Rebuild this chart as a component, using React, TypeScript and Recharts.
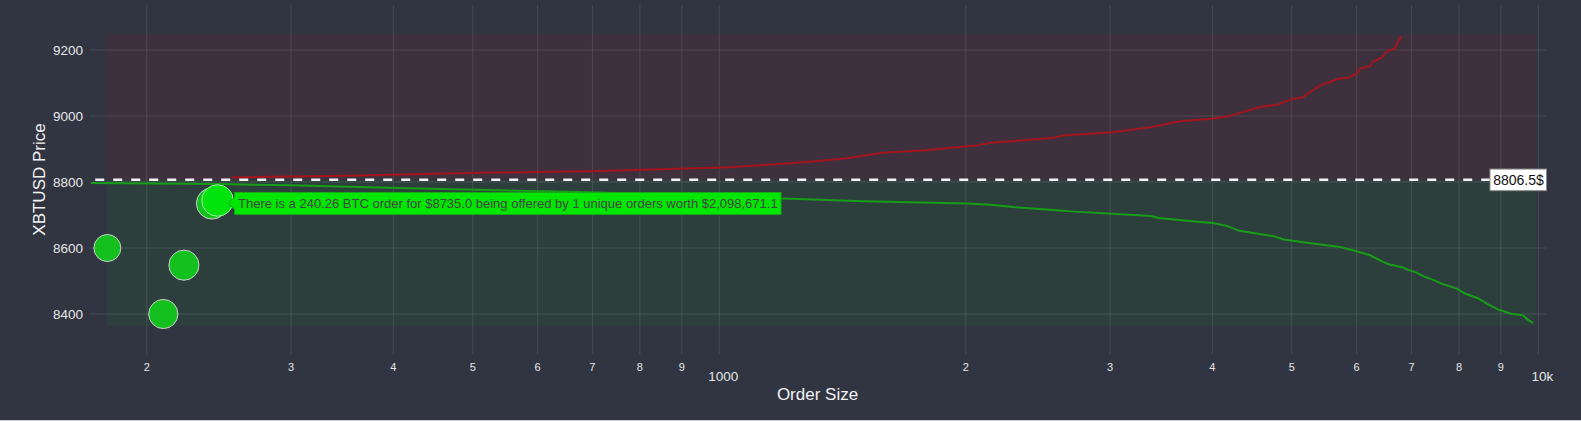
import React from 'react'
import {
  ComposedChart,
  Line,
  Scatter,
  XAxis,
  YAxis,
  ReferenceArea,
  ReferenceLine,
  ReferenceDot,
} from 'recharts'

const FONT = '"Liberation Sans", Arial, sans-serif'
const BG = '#313542'
const GRID = 'rgba(255,255,255,0.1)'

// cumulative bid depth: order size (BTC) vs price
const bidSize = [171, 245, 300, 405, 520, 676, 850, 1000, 1198, 1500, 2009, 2143, 2286, 2600, 2686, 3366, 3440, 3864, 4007, 4163, 4317, 4750, 4888, 5135, 5727, 6002, 6230, 6462, 6581, 6822, 6917, 7077, 7278, 7414, 7660, 7951, 8140, 8450, 8684, 8928, 9264, 9574, 9707, 9846]
const bidPrice = [8797, 8794, 8790, 8782, 8776, 8770, 8762, 8755, 8750, 8742, 8735, 8731, 8724, 8714, 8711, 8697, 8691, 8679, 8676, 8667, 8652, 8636, 8626, 8618, 8603, 8590, 8578, 8558, 8550, 8542, 8535, 8527, 8512, 8505, 8490, 8477, 8462, 8447, 8429, 8414, 8401, 8396, 8383, 8373]

// cumulative ask depth
const askSize = [254, 350, 511, 715, 1030, 1160, 1300, 1424, 1585, 1784, 2009, 2064, 2143, 2545, 2628, 3023, 3357, 3650, 3992, 4182, 4573, 4814, 5000, 5164, 5213, 5438, 5618, 5672, 5861, 6001, 6057, 6231, 6288, 6438, 6530, 6683, 6716, 6811]
const askPrice = [8814, 8819, 8828, 8833, 8845, 8853, 8862, 8871, 8889, 8896, 8908, 8911, 8919, 8933, 8941, 8951, 8966, 8984, 8992, 8999, 9027, 9035, 9051, 9057, 9066, 9095, 9106, 9112, 9116, 9128, 9144, 9151, 9166, 9177, 9196, 9204, 9219, 9242]

// large single orders (bubbles)
const orderSize = [179, 209.5, 222, 240.26]
const orderPrice = [8600, 8400, 8548, 8735]
const focusSize = [244]
const focusPrice = [8744]
const focusOrderCount = 1

const MID_PRICE = 8806.5
const BOOK_TOP = 9247.6
const BOOK_BOTTOM = 8364.5
const BOOK_MIN = 179
const BOOK_MAX = 9927
const MID_LINE_START = 173

const xTicks = [200, 300, 400, 500, 600, 700, 800, 900, 1000, 2000, 3000, 4000, 5000, 6000, 7000, 8000, 9000, 10000]
const xTickLabels = ['2', '3', '4', '5', '6', '7', '8', '9', '1000', '2', '3', '4', '5', '6', '7', '8', '9', '10k']
const yTicks = [8400, 8600, 8800, 9000, 9200]

const zip = (s: number[], p: number[]) => s.map((size, i) => ({ size, price: p[i] }))
const bids = zip(bidSize, bidPrice)
const asks = zip(askSize, askPrice)
const orders = zip(orderSize, orderPrice)
const focus = zip(focusSize, focusPrice)

const hovered = orders[3]
const worth = (hovered.size * hovered.price).toLocaleString('en-US', {
  minimumFractionDigits: 1,
  maximumFractionDigits: 1,
})
const HOVER_TEXT = `There is a ${hovered.size} BTC order for $${hovered.price.toFixed(1)} being offered by ${focusOrderCount} unique orders worth $${worth}`

// bubble area grows with order size
const bubbleR = (size: number) => Math.sqrt((size * 3.2) / Math.PI)

const bubble = (fill: string, stroke: string) => (p: any) => (
  <circle cx={p.cx} cy={p.cy} r={bubbleR(p.payload.size)} fill={fill} stroke={stroke} strokeWidth={1} />
)

const XTick = (props: any) => {
  const { x, y, payload } = props
  const i = xTicks.indexOf(payload.value)
  const label = xTickLabels[i] ?? ''
  const major = payload.value === 1000 || payload.value === 10000
  return (
    <text
      x={major ? x + 4 : x}
      y={major ? y + 22 : y + 12.7}
      textAnchor="middle"
      dominantBaseline="central"
      fontSize={major ? 13.5 : 11}
      fill="#e6e6e6"
      fontFamily={FONT}
    >
      {label}
    </text>
  )
}

const HoverLabel = (props: any) => {
  const vb = props.viewBox
  const cx = vb.x + (vb.width || 0) / 2
  const cy = vb.y + (vb.height || 0) / 2
  const tip = cx + 16
  const left = tip + 6.5
  const w = 546.5
  const h = 22
  return (
    <g>
      <path
        d={`M${tip},${cy} L${left},${cy - 6} L${left},${cy - h / 2} L${left + w},${cy - h / 2} L${left + w},${cy + h / 2} L${left},${cy + h / 2} L${left},${cy + 6} Z`}
        fill="#00e600"
        stroke="#16a816"
        strokeWidth={1}
      />
      <text x={left + 3.5} y={cy} dominantBaseline="central" fontSize={13} fill="#444" fontFamily={FONT}>
        {HOVER_TEXT}
      </text>
    </g>
  )
}

const MidLabel = (props: any) => {
  const vb = props.viewBox
  const right = vb.x + vb.width
  const y = vb.y + (vb.height || 0) / 2
  return (
    <g>
      <rect x={right - 56} y={y - 10.8} width={56.5} height={21.6} fill="#fff" stroke="#8c8c8c" strokeWidth={1} />
      <text x={right - 27.5} y={y} textAnchor="middle" dominantBaseline="central" fontSize={14} fill="#111" fontFamily={FONT}>
        {`${MID_PRICE}$`}
      </text>
    </g>
  )
}

export default function App() {
  return (
    <div
      style={{
        position: 'absolute',
        top: 0,
        left: 0,
        width: 1581,
        height: 420,
        background: BG,
        borderBottom: '1px solid #cfcfcf',
      }}
    >
      <ComposedChart width={1581} height={420} margin={{ top: 5, right: 35, bottom: 20, left: 0 }}>
        <ReferenceArea x1={BOOK_MIN} x2={BOOK_MAX} y1={MID_PRICE} y2={BOOK_TOP} fill="rgba(255,0,0,0.065)" fillOpacity={1} stroke="none" />
        <ReferenceArea x1={BOOK_MIN} x2={BOOK_MAX} y1={BOOK_BOTTOM} y2={MID_PRICE} fill="rgba(0,200,0,0.07)" fillOpacity={1} stroke="none" />
        {xTicks.map((t) => (
          <ReferenceLine key={`gx${t}`} x={t} stroke={GRID} strokeWidth={1} />
        ))}
        {yTicks.map((t) => (
          <ReferenceLine key={`gy${t}`} y={t} stroke={GRID} strokeWidth={1} />
        ))}
        <XAxis
          dataKey="size"
          type="number"
          scale="log"
          domain={[170, 10218]}
          allowDataOverflow
          ticks={xTicks}
          interval={0}
          height={46}
          axisLine={false}
          tickLine={false}
          tickSize={0}
          tickMargin={0}
          tick={<XTick />}
          label={{
            content: (p: any) => (
              <text
                x={p.viewBox.x + p.viewBox.width / 2}
                y={p.viewBox.y + 40}
                textAnchor="middle"
                dominantBaseline="central"
                fontSize={17}
                fill="#f2f2f2"
                fontFamily={FONT}
              >
                Order Size
              </text>
            ),
          }}
        />
        <YAxis
          dataKey="price"
          type="number"
          domain={[8278.8, 9336.4]}
          allowDataOverflow
          ticks={yTicks}
          width={89}
          axisLine={false}
          tickLine={false}
          tickSize={0}
          tickMargin={6}
          tick={{ fill: '#e6e6e6', fontSize: 13.5, fontFamily: FONT }}
          label={{
            content: (p: any) => {
              const cy = p.viewBox.y + p.viewBox.height / 2
              return (
                <text
                  x={39}
                  y={cy}
                  transform={`rotate(-90 39 ${cy})`}
                  textAnchor="middle"
                  dominantBaseline="central"
                  fontSize={17}
                  fill="#f2f2f2"
                  fontFamily={FONT}
                >
                  XBTUSD Price
                </text>
              )
            },
          }}
        />
        <Line data={asks} dataKey="price" type="linear" stroke="#a3141f" strokeWidth={2} dot={false} isAnimationActive={false} />
        <Line data={bids} dataKey="price" type="linear" stroke="#179e17" strokeWidth={2} dot={false} isAnimationActive={false} />
        <Scatter data={orders} shape={bubble('#13c01d', '#d0d0d0')} isAnimationActive={false} />
        <Scatter data={focus} shape={bubble('#00e30c', '#a5f0a5')} isAnimationActive={false} />
        <ReferenceLine
          segment={[
            { x: MID_LINE_START, y: MID_PRICE },
            { x: 10218, y: MID_PRICE },
          ]}
          stroke="#f2f2f2"
          strokeWidth={2.5}
          strokeDasharray="9 9"
          ifOverflow="visible"
          label={(p: any) => <MidLabel {...p} />}
        />
        <ReferenceDot
          x={hovered.size}
          y={hovered.price}
          r={1}
          fill="none"
          stroke="none"
          label={(p: any) => <HoverLabel {...p} />}
        />
      </ComposedChart>
    </div>
  )
}
